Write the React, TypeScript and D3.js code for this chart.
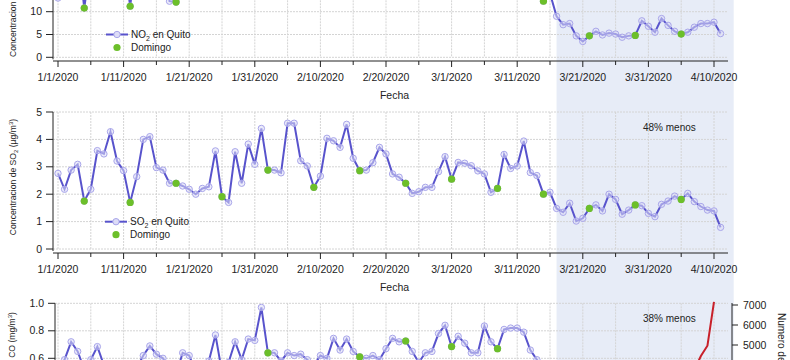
import React from 'react';
import * as d3 from 'd3';

// daily series, first value is 1/1/2020 (102 days, up to 4/11/2020)
const firstDay = '2020-01-01';

const no2Values = [
  13, 22, 25, 24, 10.8, 21, 26, 27, 25, 26,
  22, 11.2, 23, 27, 28, 26, 24, 12.3, 12.1, 22,
  27, 28, 27, 25, 24, 15, 25, 28, 29, 27,
  25, 24, 14, 24, 26, 29, 28, 26, 25, 15,
  23, 27, 28, 26, 27, 24, 14, 22, 25, 27,
  26, 23, 21, 15, 16, 17, 24, 26, 28, 27,
  15, 25, 27, 28, 26, 25, 24, 14, 25, 27,
  26, 24, 22, 18, 12.3, 14, 9.0, 7.15, 7.4, 4.7,
  3.47, 4.7, 5.7, 4.9, 5.3, 5.1, 4.4, 4.7, 4.8, 8.0,
  6.8, 5.5, 8.5, 7.0, 5.7, 5.1, 5.5, 6.6, 7.4, 7.4,
  7.7, 5.2,
];

const so2Values = [
  2.76, 2.18, 2.88, 3.09, 1.75, 2.18, 3.59, 3.47, 4.28, 3.21,
  2.86, 1.70, 2.64, 4.00, 4.10, 2.97, 2.88, 2.40, 2.40, 2.30,
  2.18, 2.00, 2.21, 2.27, 3.58, 1.91, 1.70, 3.55, 2.40, 3.83,
  3.09, 4.40, 2.88, 2.88, 2.78, 4.59, 4.59, 3.22, 3.03, 2.25,
  2.66, 4.04, 3.95, 3.71, 4.55, 3.31, 2.86, 2.88, 3.15, 3.71,
  3.47, 2.74, 2.62, 2.40, 2.03, 2.09, 2.25, 2.25, 2.82, 3.37,
  2.55, 3.16, 3.13, 3.04, 2.85, 2.74, 2.07, 2.21, 3.45, 2.94,
  3.03, 3.94, 2.79, 2.68, 2.00, 2.07, 1.48, 1.34, 1.67, 1.02,
  1.12, 1.48, 1.61, 1.39, 2.00, 1.81, 1.27, 1.42, 1.61, 1.58,
  1.30, 1.18, 1.63, 1.75, 1.93, 1.81, 2.03, 1.73, 1.55, 1.42,
  1.39, 0.79,
];

const coValues = [
  0.52, 0.59, 0.72, 0.65, 0.52, 0.59, 0.685, 0.55, 0.50, 0.52,
  0.50, 0.45, 0.53, 0.62, 0.69, 0.63, 0.60, 0.52, 0.48, 0.64,
  0.62, 0.50, 0.52, 0.58, 0.77, 0.50, 0.57, 0.72, 0.59, 0.74,
  0.73, 0.97, 0.64, 0.64, 0.58, 0.64, 0.62, 0.63, 0.59, 0.55,
  0.62, 0.60, 0.745, 0.66, 0.74, 0.65, 0.61, 0.60, 0.62, 0.59,
  0.67, 0.745, 0.72, 0.726, 0.65, 0.57, 0.64, 0.65, 0.78, 0.84,
  0.685, 0.76, 0.71, 0.64, 0.64, 0.835, 0.72, 0.67, 0.81, 0.82,
  0.82, 0.79, 0.66, 0.59, 0.52, 0.48, 0.42, 0.40, 0.41, 0.38,
  0.37, 0.36, 0.40, 0.39, 0.41, 0.40, 0.38, 0.39, 0.37, 0.40,
  0.42, 0.41, 0.39, 0.40, 0.42, 0.38, 0.40, 0.41, 0.43, 0.42,
  0.40, 0.39,
];

// confirmed cases in Ecuador, right axis of CO panel
const casesFirstDay = '2020-03-13';
const casesValues = [
  23, 28, 37, 58, 111, 168, 260, 426, 532, 789,
  981, 1082, 1173, 1403, 1595, 1823, 1924, 1962, 2240, 2748,
  3163, 3368, 3465, 3646, 3747, 3747, 4450, 4965, 7161,
];

const dateTicks = ['1/1/2020', '1/11/2020', '1/21/2020', '1/31/2020', '2/10/2020', '2/20/2020', '3/1/2020', '3/11/2020', '3/21/2020', '3/31/2020', '4/10/2020'];
const no2Ticks = [0, 5, 10, 15, 20, 25];
const so2Ticks = [0, 1, 2, 3, 4, 5];
const coTicks = [0, 0.2, 0.4, 0.6, 0.8, 1.0];
const casesTicks = [0, 1000, 2000, 3000, 4000, 5000, 6000, 7000];

const lockdownStart = '2020-03-17';
const lockdownEnd = '2020-04-13';

const DAY = 86400000;
const W = 790;
const H = 360;
const LINE = '#5853cc';
const MARK_STROKE = '#a9a6ea';
const MARK_FILL = '#dddcf7';
const GREEN = '#6cbf2a';
const SHADE = '#e7ecf7';
const GRID = '#d4d4d4';
const AXIS = '#222';
const FONT = 'Liberation Sans, Arial, Helvetica, sans-serif';

const t0 = Date.parse(firstDay);
const dateOf = (i: number) => new Date(t0 + i * DAY);
const parseTick = (s: string) => {
  const [m, d, y] = s.split('/').map(Number);
  return new Date(Date.UTC(y, m - 1, d));
};

const majorDates = dateTicks.map(parseTick);
const minorDates = majorDates.slice(0, -1).map(d => new Date(+d + 5 * DAY));
const gridDates = [...majorDates, ...minorDates];

const x = d3.scaleUtc().domain([majorDates[0], majorDates[majorDates.length - 1]]).range([58, 714]);
const X_LEFT = 53;
const X_RIGHT = 728;

// only label ticks that land inside the picture
const onCanvas = (py: number) => py >= 0 && py <= H;

function Series({ values, y, label, axisX, xAxisY, ticks, decimals, legendAt, note, noteY }) {
  const line = d3.line<number>().x((_, i) => x(dateOf(i))).y(v => y(v));
  const yTop = y(ticks[ticks.length - 1]);
  const yZero = y(ticks[0]);
  return (
    <g>
      {/* grid */}
      {ticks.map(t => (
        <line key={'h' + t} x1={axisX} x2={X_RIGHT} y1={y(t)} y2={y(t)} stroke={GRID} strokeDasharray="2,1" />
      ))}
      {gridDates.map(d => (
        <line key={'v' + +d} x1={x(d)} x2={x(d)} y1={yTop} y2={yZero} stroke={GRID} strokeDasharray="2,1" />
      ))}
      {/* y axis */}
      <line x1={axisX} x2={axisX} y1={yTop} y2={yZero + 2} stroke={AXIS} />
      {ticks.map(t => (
        <g key={'yt' + t}>
          <line x1={axisX - 7} x2={axisX} y1={y(t)} y2={y(t)} stroke={AXIS} />
          {onCanvas(y(t)) && (
            <text x={axisX - 11} y={y(t)} dy="0.35em" textAnchor="end" fontSize="10.5" fill={AXIS}>
              {t.toFixed(decimals)}
            </text>
          )}
        </g>
      ))}
      {/* x axis */}
      {xAxisY != null && (
        <g>
          <line x1={X_LEFT} x2={X_RIGHT} y1={xAxisY} y2={xAxisY} stroke={AXIS} />
          {majorDates.map((d, i) => (
            <g key={'xt' + i}>
              <line x1={x(d)} x2={x(d)} y1={xAxisY} y2={xAxisY + 6} stroke={AXIS} />
              <text x={x(d)} y={xAxisY + 16} dy="0.35em" textAnchor="middle" fontSize="10.5" fill={AXIS}>{dateTicks[i]}</text>
            </g>
          ))}
          {minorDates.map((d, i) => (
            <line key={'xm' + i} x1={x(d)} x2={x(d)} y1={xAxisY} y2={xAxisY + 4} stroke={AXIS} />
          ))}
          <text x={(X_LEFT + X_RIGHT) / 2 + 4} y={xAxisY + 34} dy="0.35em" textAnchor="middle" fontSize="10.5" fill={AXIS}>Fecha</text>
        </g>
      )}
      {/* series */}
      <path d={line(values) || ''} fill="none" stroke={LINE} strokeWidth={2} />
      {values.map((v, i) => (
        <circle key={'m' + i} cx={x(dateOf(i))} cy={y(v)} r={3.2} fill={MARK_FILL} fillOpacity={0.55} stroke={MARK_STROKE} strokeWidth={1} />
      ))}
      {values.map((v, i) => dateOf(i).getUTCDay() === 0 ? (
        <circle key={'s' + i} cx={x(dateOf(i))} cy={y(v)} r={3.6} fill={GREEN} />
      ) : null)}
      {/* legend */}
      {legendAt && (
        <g transform={`translate(${legendAt[0]},${legendAt[1]})`}>
          <line x1={0} x2={22} y1={0} y2={0} stroke={LINE} strokeWidth={2} />
          <circle cx={11} cy={0} r={3.2} fill={MARK_FILL} stroke={MARK_STROKE} />
          <text x={25} y={0} dy="0.35em" fontSize="10" fill={AXIS}>
            {label}<tspan fontSize="7" dy="3">2</tspan><tspan dy="-3"> en Quito</tspan>
          </text>
          <circle cx={11} cy={13} r={3.6} fill={GREEN} />
          <text x={25} y={13} dy="0.35em" fontSize="10" fill={AXIS}>Domingo</text>
        </g>
      )}
      {note && (
        <text x={x(dateOf(93.2))} y={noteY} dy="0.35em" textAnchor="middle" fontSize="10" fill={AXIS}>{note}</text>
      )}
    </g>
  );
}

export default function App() {
  const yNo2 = d3.scaleLinear().domain([0, 10]).range([57.3, 11.7]);
  const ySo2 = d3.scaleLinear().domain([0, 5]).range([249, 112]);
  const yCo = d3.scaleLinear().domain([0.6, 1.0]).range([358.3, 303.3]);
  const yCases = d3.scaleLinear().domain([5000, 7000]).range([345, 305]);

  const c0 = Date.parse(casesFirstDay);
  const casesLine = d3.line<number>().x((_, i) => x(new Date(c0 + i * DAY))).y(v => yCases(v));
  const shadeX0 = x(new Date(lockdownStart));
  const shadeX1 = x(new Date(lockdownEnd));
  const CO_AXIS = 55;
  const R_AXIS = 732;

  return (
    <svg width={W} height={H} style={{ position: 'absolute', left: 0, top: 0, background: '#fff' }} fontFamily={FONT}>
      <rect x={shadeX0} y={0} width={shadeX1 - shadeX0} height={H} fill={SHADE} />

      {/* NO2 panel */}
      <Series values={no2Values} y={yNo2} label="NO" axisX={X_LEFT} xAxisY={61} ticks={no2Ticks} decimals={0} legendAt={[106, 34.5]} note={null} noteY={0} />
      <text transform="translate(16,57) rotate(-90)" textAnchor="start" fontSize="8.6" fill={AXIS}>
        Concentracion de NO<tspan fontSize="6" dy="2">2</tspan><tspan dy="-2"> (µg/m</tspan><tspan fontSize="6" dy="-3">3</tspan><tspan dy="3">)</tspan>
      </text>

      {/* SO2 panel */}
      <Series values={so2Values} y={ySo2} label="SO" axisX={X_LEFT} xAxisY={253} ticks={so2Ticks} decimals={0} legendAt={[105, 221.7]} note="48% menos" noteY={127.7} />
      <text transform="translate(16,177) rotate(-90)" textAnchor="middle" fontSize="8.6" fill={AXIS}>
        Concentracion de SO<tspan fontSize="6" dy="2">2</tspan><tspan dy="-2"> (µg/m</tspan><tspan fontSize="6" dy="-3">3</tspan><tspan dy="3">)</tspan>
      </text>

      {/* CO panel */}
      <Series values={coValues} y={yCo} label="CO" axisX={CO_AXIS} xAxisY={null} ticks={coTicks} decimals={1} legendAt={null} note="38% menos" noteY={318.3} />
      <text transform="translate(15,312) rotate(-90)" textAnchor="end" fontSize="8.6" fill={AXIS}>
        CO (mg/m<tspan fontSize="6" dy="-3">3</tspan><tspan dy="3">)</tspan>
      </text>

      {/* cases, right axis */}
      <path d={casesLine(casesValues) || ''} fill="none" stroke="#c8202a" strokeWidth={2} />
      <line x1={R_AXIS} x2={R_AXIS} y1={yCases(7000) - 2} y2={H + 40} stroke={AXIS} />
      {casesTicks.map(t => (
        <g key={'c' + t}>
          <line x1={R_AXIS} x2={R_AXIS + 6} y1={yCases(t)} y2={yCases(t)} stroke={AXIS} />
          {onCanvas(yCases(t)) && (
            <text x={R_AXIS + 11} y={yCases(t)} dy="0.35em" fontSize="10.5" fill={AXIS}>{t}</text>
          )}
        </g>
      ))}
      <text transform="translate(778,313) rotate(90)" textAnchor="start" fontSize="10" fill={AXIS}>Numero de casos</text>
    </svg>
  );
}
